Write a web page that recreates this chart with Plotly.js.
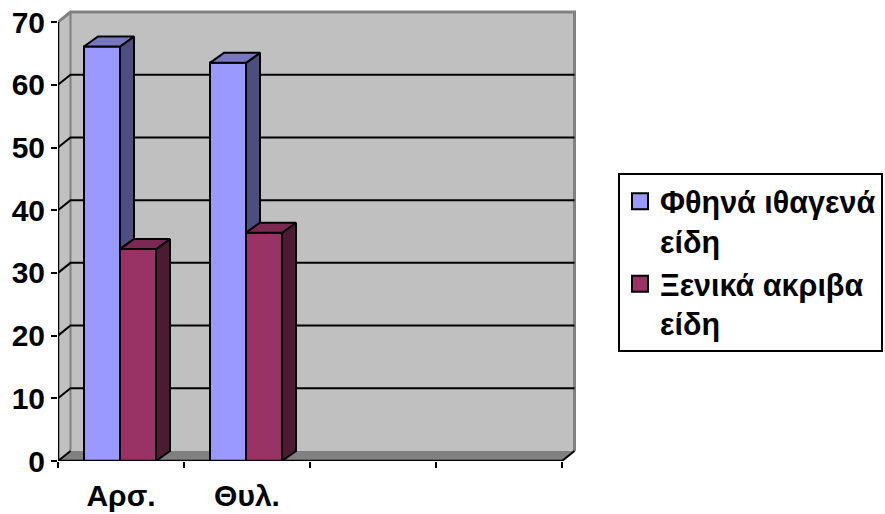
<!DOCTYPE html>
<html>
<head>
<meta charset="utf-8">
<script src="https://cdn.plot.ly/plotly-3.0.1.min.js"></script>
<style>html,body{margin:0;padding:0;background:#fff}</style>
</head>
<body>
<div id="chart" style="width:885px;height:514px"></div>
<script>
var categories = ['Αρσ.', 'Θυλ.'];
var seriesNames = ['Φθηνά ιθαγενά<br>είδη', 'Ξενικά ακριβα<br>είδη'];
var cheapLocal = [66.1, 63.5];
var foreignDear = [33.8, 36.4];
var yTicks = [0, 10, 20, 30, 40, 50, 60, 70];

var FONT = '"Liberation Sans", Arial, sans-serif';
var colFront = ['#9999ff', '#993366'], colSide = ['#4d4d80', '#4d1a33'], colTop = ['#7878c0', '#7a2952'];
var barW = 36 / 126, barOff = [-37 / 126, -1 / 126];
var depthX = 14 / 126, depthY = 1.6, wallX = 12.5 / 126, wallY = 1.6;
var xL = -0.5, xR = 3.5, yMax = 70;
var series = [cheapLocal, foreignDear];
var idx = categories.map(function (_, i) { return i; });

function poly(xs, ys, fill) {
  return { type: 'scatter', mode: 'lines', x: xs, y: ys, fill: 'toself', fillcolor: fill,
    line: { color: '#000', width: 2 }, showlegend: false, hoverinfo: 'skip', cliponaxis: false };
}
var traces = [];
series.forEach(function (vals, s) {
  traces.push({ type: 'bar', x: idx, y: vals, width: barW, offset: barOff[s], name: seriesNames[s],
    marker: { color: colFront[s], line: { color: '#000', width: 2 } }, showlegend: false, cliponaxis: false, hoverinfo: 'skip' });
});
series.forEach(function (vals, s) {
  vals.forEach(function (v, i) {
    var x0 = i + barOff[s], x1 = x0 + barW;
    var low = s + 1 < series.length ? Math.min(v, series[s + 1][i]) : 0;
    traces.push(poly([x1, x1 + depthX, x1 + depthX, x1, x1], [v, v + depthY, low + depthY, low, v], colSide[s]));
    traces.push(poly([x0, x0 + depthX, x1 + depthX, x1, x0], [v, v + depthY, v + depthY, v, v], colTop[s]));
  });
});
// front axis lines
traces.push({ type: 'scatter', mode: 'lines', x: [xL, xL, xR], y: [yMax, 0, 0], line: { color: '#000', width: 2.5 },
  showlegend: false, hoverinfo: 'skip', cliponaxis: false });
// legend entries
series.forEach(function (vals, s) {
  traces.push({ type: 'scatter', mode: 'markers', x: [null], y: [null], name: seriesNames[s], hoverinfo: 'skip',
    marker: { symbol: 'square', size: 16, color: colFront[s], line: { color: '#000', width: 2 } } });
});

var gray = '#808080';
var shapes = [
  { type: 'path', layer: 'below', xref: 'x', yref: 'y', fillcolor: '#c0c0c0', line: { width: 0 },
    path: 'M' + xL + ',0 L' + xL + ',' + yMax + ' L' + (xL + wallX) + ',' + (yMax + wallY) + ' L' + (xR + wallX) + ',' + (yMax + wallY) + ' L' + (xR + wallX) + ',' + wallY + ' L' + (xL + wallX) + ',' + wallY + ' Z' },
  { type: 'path', layer: 'below', xref: 'x', yref: 'y', fillcolor: gray, line: { width: 0 },
    path: 'M' + xL + ',0 L' + (xL + wallX) + ',' + wallY + ' L' + (xR + wallX) + ',' + wallY + ' L' + xR + ',0 Z' },
  { type: 'path', layer: 'below', xref: 'x', yref: 'y', line: { color: gray, width: 3 },
    path: 'M' + xL + ',' + yMax + ' L' + (xL + wallX) + ',' + (yMax + wallY) + ' L' + (xR + wallX) + ',' + (yMax + wallY) + ' L' + (xR + wallX) + ',' + wallY },
  { type: 'line', layer: 'below', xref: 'x', yref: 'y', line: { color: gray, width: 2 }, x0: xL + wallX, x1: xL + wallX, y0: wallY, y1: yMax + wallY },
  { type: 'line', layer: 'below', xref: 'x', yref: 'y', line: { color: '#000', width: 2 }, x0: xR, x1: xR + wallX, y0: 0, y1: wallY }
];
yTicks.forEach(function (v) {
  if (v === yMax) return;
  var p = 'M' + xL + ',' + v + ' L' + (xL + wallX) + ',' + (v + wallY);
  if (v > 0) p += ' L' + (xR + wallX) + ',' + (v + wallY);
  shapes.push({ type: 'path', layer: 'below', xref: 'x', yref: 'y', line: { color: '#000', width: 2 }, path: p });
});

var pxPerX = 126, pxPerY = 6.27;
var plotL = 58, plotR = 578, plotT = 8, plotB = 461;
var layout = {
  width: 885, height: 514, paper_bgcolor: '#fff', plot_bgcolor: 'rgba(0,0,0,0)',
  margin: { l: plotL, r: 885 - plotR, t: plotT, b: 514 - plotB, pad: 0, autoexpand: false },
  barmode: 'overlay', showlegend: true, hovermode: false,
  font: { family: FONT, color: '#000' },
  shapes: shapes,
  xaxis: { type: 'linear', range: [xL, xL + (plotR - plotL) / pxPerX], tickmode: 'array', tickvals: idx, ticktext: categories,
    ticks: '', showgrid: false, zeroline: false, showline: false, ticklabelstandoff: 14,
    tickfont: { family: FONT, size: 30, weight: 700, color: '#000' },
    minor: { tickmode: 'array', tickvals: [-0.5, 0.5, 1.5, 2.5, 3.5], ticks: 'outside', ticklen: 6, tickwidth: 2, tickcolor: '#000', showgrid: false } },
  yaxis: { type: 'linear', range: [0, (plotB - plotT) / pxPerY], tickmode: 'array', tickvals: yTicks,
    ticks: 'outside', ticklen: 6, tickwidth: 2, tickcolor: '#000', showgrid: false, zeroline: false, showline: false,
    ticklabelstandoff: 0, tickfont: { family: FONT, size: 30, weight: 700, color: '#000' } },
  legend: { x: (618 - plotL) / (plotR - plotL), y: (plotB - 173) / (plotB - plotT), xanchor: 'left', yanchor: 'top',
    bgcolor: '#fff', bordercolor: '#000', borderwidth: 2, traceorder: 'normal', valign: 'top',
    font: { family: FONT, size: 30.5, weight: 700, color: '#000' }, entrywidth: 228.5, entrywidthmode: 'pixels', itemclick: false, itemdoubleclick: false }
};
Plotly.newPlot('chart', traces, layout, { displayModeBar: false, staticPlot: true });
</script>
</body>
</html>
